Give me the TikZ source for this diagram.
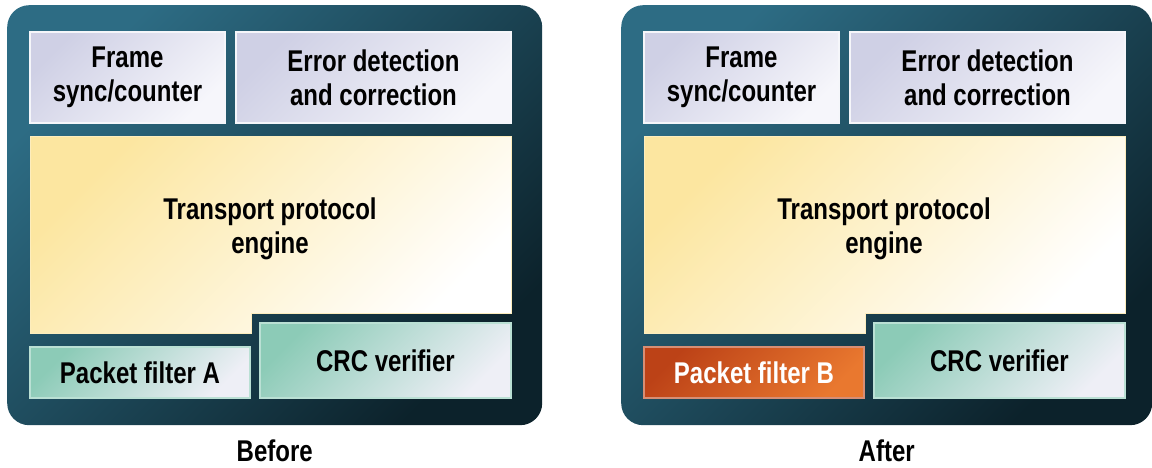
\documentclass[tikz,border=0pt]{standalone}
\usepackage{fontspec}
\setmainfont{Liberation Sans}[FakeStretch=0.8]
\usetikzlibrary{positioning}
\definecolor{panelhi}{HTML}{2D6C84}
\definecolor{panello}{HTML}{0C222B}
\definecolor{grayhi}{HTML}{CFD0E5}
\definecolor{graylo}{HTML}{F6F6FB}
\definecolor{yellowhi}{HTML}{FCE6A0}
\definecolor{yellowlo}{HTML}{FFFFFF}
\definecolor{greenhi}{HTML}{8CCBB7}
\definecolor{greenlo}{HTML}{EEEFF6}
\definecolor{orangehi}{HTML}{BC4217}
\definecolor{orangelo}{HTML}{E9782F}
\tikzset{
    panel/.style={rounded corners=22pt, top color=panelhi, bottom color=panello, shading angle=45, anchor=north west, inner sep=0pt}, % dark frame round each block
    label/.style={align=center, font=\bfseries\fontsize{30}{34}\selectfont},
    block/.style={label, anchor=north west, inner sep=0pt, outer sep=0pt, line width=1.2pt},
    graybox/.style={block, top color=grayhi, bottom color=graylo, shading angle=45, draw=white!80!grayhi}
}

\begin{document}
\begin{tikzpicture}[x=1pt, y=-1pt]
    \useasboundingbox (0,0) rectangle (1152,468);

    \foreach \dx/\p/\pw/\cap/\flt/\fa/\fb/\ft in {0/b/535/Before/Packet filter A/greenhi/greenlo/black, 614/a/531/After/Packet filter B/orangehi/orangelo/white} {
        \begin{scope}[xshift=\dx pt]
            \node[panel, minimum width=\pw, minimum height=420] (\p panel) at (7,5) {};

            \node[graybox, minimum width=195, minimum height=91] (\p frame) at (30,32) {Frame\\sync/counter};
            \node[graybox, minimum width=275, minimum height=91] (\p error) at (236,32) {Error detection\\and correction};

            \shade[top color=yellowhi, bottom color=yellowlo, shading angle=45, draw=yellowhi!70!white, line width=1pt]
                (30,137) -- (511,137) -- (511,313) -- (251,313) -- (251,333) -- (30,333) -- cycle;
            \node[label] (\p engine) at (270,229) {Transport protocol\\engine};

            \node[block, minimum width=220, minimum height=51, top color=\fa, bottom color=\fb, shading angle=45, text=\ft, draw=\fa!60!white] (\p filter) at (30,347) {\flt};
            \node[block, minimum width=251, minimum height=75, top color=greenhi, bottom color=greenlo, shading angle=45, draw=greenhi!60!white] (\p crc) at (260,323) {CRC verifier};

            \node[label, below=11pt of \p panel.south] (\p cap) {\cap};
        \end{scope}
    }
\end{tikzpicture}
\end{document}
